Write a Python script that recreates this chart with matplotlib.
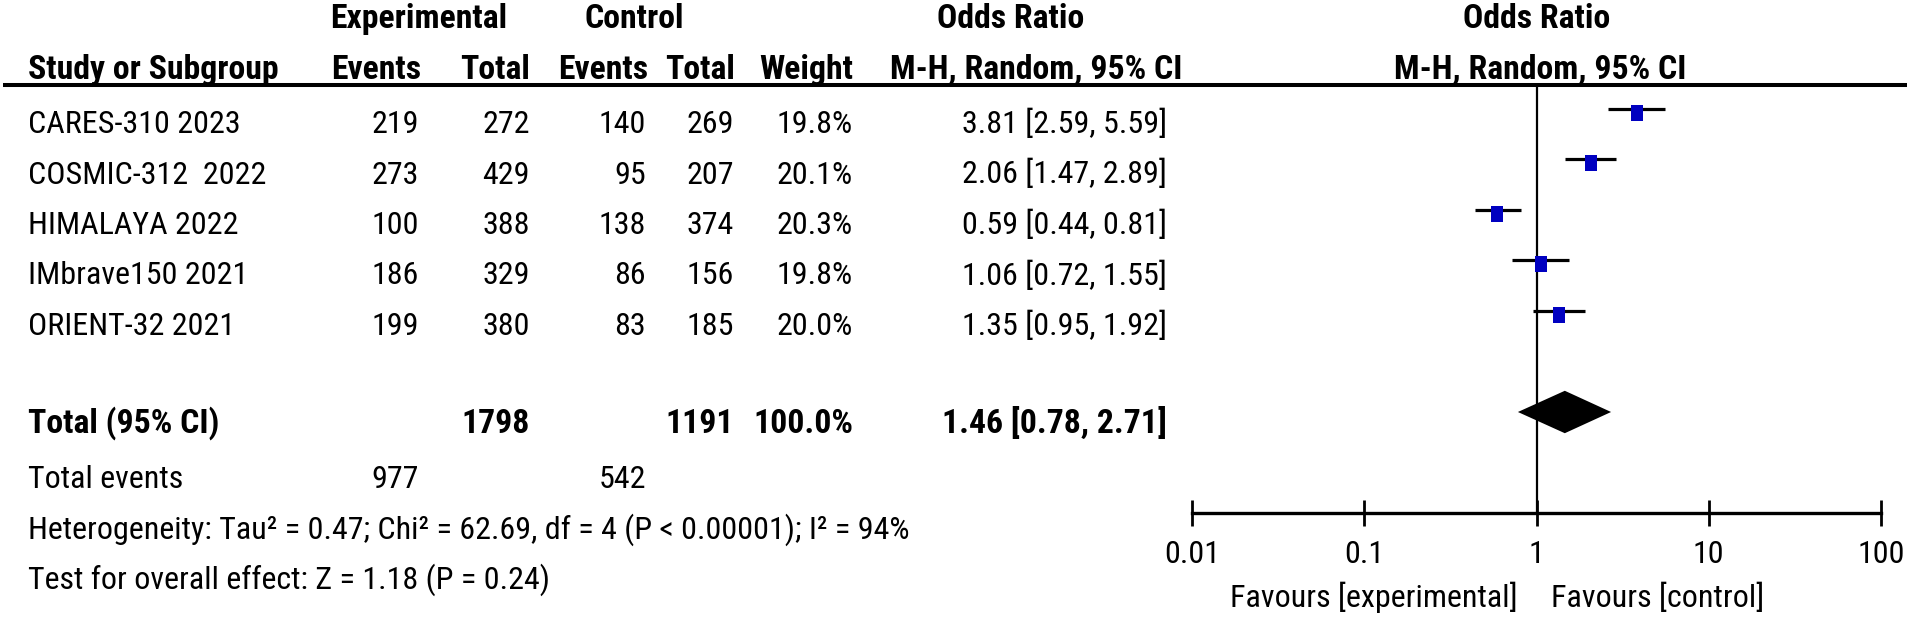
import matplotlib
matplotlib.use("Agg")
import matplotlib.pyplot as plt
from matplotlib import font_manager
from matplotlib.transforms import ScaledTranslation

# study data
studies = ["CARES-310 2023", "COSMIC-312  2022", "HIMALAYA 2022", "IMbrave150 2021", "ORIENT-32 2021"]
exp_events = [219, 273, 100, 186, 199]
exp_total = [272, 429, 388, 329, 380]
ctl_events = [140, 95, 138, 86, 83]
ctl_total = [269, 207, 374, 156, 185]
weights = [19.8, 20.1, 20.3, 19.8, 20.0]
or_est = [3.81, 2.06, 0.59, 1.06, 1.35]
ci_lo = [2.59, 1.47, 0.44, 0.72, 0.95]
ci_hi = [5.59, 2.89, 0.81, 1.55, 1.92]

# pooled
tot_exp_n, tot_ctl_n = 1798, 1191
tot_exp_ev, tot_ctl_ev = 977, 542
tot_weight = 100.0
tot_or, tot_lo, tot_hi = 1.46, 0.78, 2.71
heterogeneity = "Heterogeneity: Tau² = 0.47; Chi² = 62.69, df = 4 (P < 0.00001); I² = 94%"
overall = "Test for overall effect: Z = 1.18 (P = 0.24)"
ticks = [0.01, 0.1, 1, 10, 100]
tick_labels = ["0.01", "0.1", "1", "10", "100"]

names = {f.name for f in font_manager.fontManager.ttflist}
if "Roboto Condensed" in names:
    plt.rcParams['font.family'] = ['Roboto Condensed', 'DejaVu Sans']
    fs, fsb = 23, 24.3
else:
    plt.rcParams['font.family'] = ['Liberation Sans', 'DejaVu Sans']
    fs, fsb = 20, 20

W, H = 1907, 621
fig = plt.figure(figsize=(W / 100, H / 100), dpi=100)
ax = fig.add_axes([0, 0, 1, 1])
ax.set_xlim(0, W)
ax.set_ylim(H, 0)
ax.axis("off")

def txt(x, y, s, ha="right", bold=False):
    ax.text(x, y, s, ha=ha, va="baseline", fontsize=fsb if bold else fs,
            fontweight="bold" if bold else "normal", color="black")

# headers
txt(330, 28, "Experimental", ha="left", bold=True)
txt(585, 28, "Control", ha="left", bold=True)
txt(1011, 28, "Odds Ratio", ha="center", bold=True)
txt(1537, 28, "Odds Ratio", ha="center", bold=True)
txt(28, 79, "Study or Subgroup", ha="left", bold=True)
txt(421, 79, "Events", bold=True)
txt(530, 79, "Total", bold=True)
txt(648, 79, "Events", bold=True)
txt(735, 79, "Total", bold=True)
txt(853, 79, "Weight", bold=True)
txt(890, 79, "M-H, Random, 95% CI", ha="left", bold=True)
txt(1540, 79, "M-H, Random, 95% CI", ha="center", bold=True)
ax.plot([3, W], [85, 85], color="black", lw=2.9, solid_capstyle="butt")

row0, step = 133, 50.5
for i, name in enumerate(studies):
    y = row0 + step * i
    txt(28, y, name, ha="left")
    txt(419, y, str(exp_events[i]))
    txt(530, y, str(exp_total[i]))
    txt(646, y, str(ctl_events[i]))
    txt(734, y, str(ctl_total[i]))
    txt(853, y, f"{weights[i]:.1f}%")
    txt(1167, y, f"{or_est[i]:.2f} [{ci_lo[i]:.2f}, {ci_hi[i]:.2f}]")

y = row0 + step * 6 - 3
txt(28, y, "Total (95% CI)", ha="left", bold=True)
txt(530, y, str(tot_exp_n), bold=True)
txt(734, y, str(tot_ctl_n), bold=True)
txt(853, y, f"{tot_weight:.1f}%", bold=True)
txt(1167, y, f"{tot_or:.2f} [{tot_lo:.2f}, {tot_hi:.2f}]", bold=True)
y = 488
txt(28, y, "Total events", ha="left")
txt(419, y, str(tot_exp_ev))
txt(646, y, str(tot_ctl_ev))
txt(28, 539, heterogeneity, ha="left")
txt(28, 589, overall, ha="left")

txt(1518, 607, "Favours [experimental]")
txt(1551, 607, "Favours [control]", ha="left")

# forest plot
x0, x1, ytop, ybot = 1192, 1881, 85, 513
axf = fig.add_axes([x0 / W, 1 - ybot / H, (x1 - x0) / W, (ybot - ytop) / H])
axf.set_xscale("log")
axf.set_xlim(0.01, 100)
axf.set_ylim(8.0, -0.475)
axf.patch.set_alpha(0)
for s in ["top", "left", "right"]:
    axf.spines[s].set_visible(False)
axf.spines["bottom"].set_linewidth(2.4)
axf.set_yticks([])
axf.set_xticks(ticks)
axf.set_xticklabels(tick_labels)
axf.minorticks_off()
axf.tick_params(axis="x", direction="inout", length=19, width=2, pad=10, labelsize=fs)

axf.axvline(1, color="black", lw=1.6)
rows = list(range(len(studies)))
axf.hlines(rows, ci_lo, ci_hi, color="black", lw=2.3)
shift = axf.transData + ScaledTranslation(0, -4 / 100, fig.dpi_scale_trans)
box = [(-0.38, -0.5), (0.38, -0.5), (0.38, 0.5), (-0.38, 0.5), (-0.38, -0.5)]
axf.plot(or_est, rows, linestyle="none", marker=box, markersize=11.5,
         color="#0000c0", markeredgewidth=0, transform=shift)

h = 0.42
axf.fill([tot_lo, tot_or, tot_hi, tot_or], [6, 6 - h, 6, 6 + h], color="black", lw=0)

fig.savefig("out.png", dpi=100)
